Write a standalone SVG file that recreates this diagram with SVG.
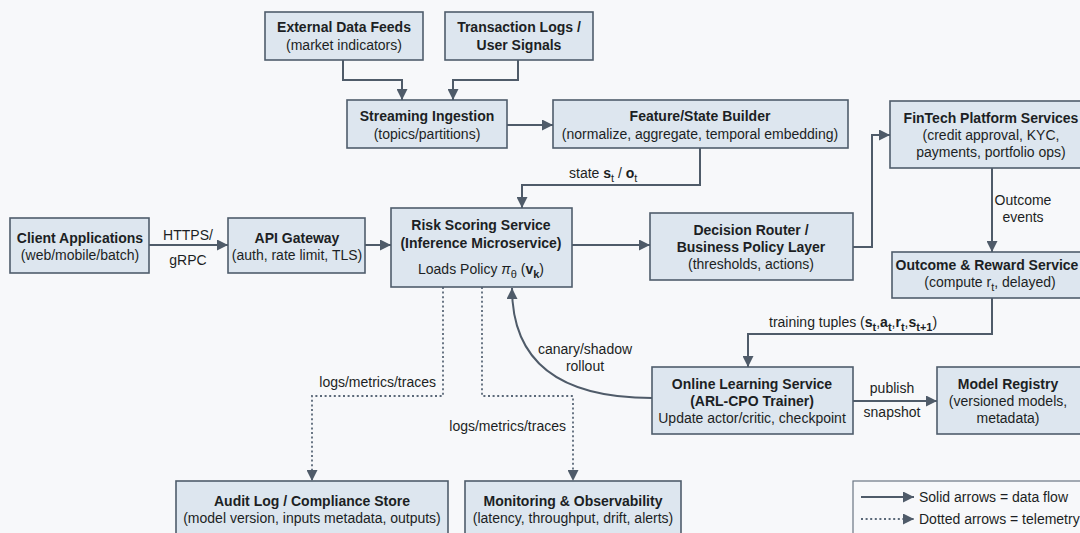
<svg xmlns="http://www.w3.org/2000/svg" width="1080" height="533" viewBox="0 0 1080 533">
<style>
  .box{fill:#dde6ef;stroke:#4f5d6c;stroke-width:1.6}
  text{font-family:"Liberation Sans",Arial,sans-serif;font-size:14px;fill:#1c1f24}
  .c{text-anchor:middle}
  .b{font-weight:bold}
  .e{text-anchor:end}
  .ln{fill:none;stroke:#4f5b69;stroke-width:2}
  .dt{fill:none;stroke:#5a6878;stroke-width:1.8;stroke-dasharray:2 2.6}
</style>
<defs>
  <marker id="ah" viewBox="0 0 10 10" refX="10" refY="5" markerWidth="11" markerHeight="11" markerUnits="userSpaceOnUse" orient="auto">
    <path d="M0,0 L10,5 L0,10 z" fill="#4f5b69"/>
  </marker>
</defs>
<rect width="1080" height="533" fill="#f7f8fa"/>

<g id="connectors">
  <path class="ln" d="M343,60 V80 H402 V100" marker-end="url(#ah)"/>
  <path class="ln" d="M518,60 V80 H453 V100" marker-end="url(#ah)"/>
  <path class="ln" d="M507,125 H553" marker-end="url(#ah)"/>
  <path class="ln" d="M700,148 V185 H522 V208" marker-end="url(#ah)"/>
  <path class="ln" d="M149,245 H228" marker-end="url(#ah)"/>
  <path class="ln" d="M365,245 H391" marker-end="url(#ah)"/>
  <path class="ln" d="M572,245 H650" marker-end="url(#ah)"/>
  <path class="ln" d="M853,247 H872 V135 H890" marker-end="url(#ah)"/>
  <path class="ln" d="M992,168 V252" marker-end="url(#ah)"/>
  <path class="ln" d="M992,298 V334 H748 V367" marker-end="url(#ah)"/>
  <path class="ln" d="M853,401 H937" marker-end="url(#ah)"/>
  <path class="ln" d="M652,398 Q512,398 512,288" marker-end="url(#ah)"/>
  <path class="dt" d="M443,287 V396 H312 V481" marker-end="url(#ah)"/>
  <path class="dt" d="M482,287 V396 H573 V481" marker-end="url(#ah)"/>

  <text class="c" x="188" y="240">HTTPS/</text>
  <text class="c" x="188" y="265">gRPC</text>
  <text x="569" y="178">state <tspan class="b">s</tspan><tspan font-size="11" dy="4">t</tspan><tspan dy="-4"> / </tspan><tspan class="b">o</tspan><tspan font-size="11" dy="4">t</tspan></text>
  <text class="c" x="1023" y="205">Outcome</text>
  <text class="c" x="1023" y="222">events</text>
  <text x="769" y="327">training tuples (<tspan class="b">s</tspan><tspan class="b" font-size="11" dy="4">t</tspan><tspan dy="-4">,</tspan><tspan class="b">a</tspan><tspan class="b" font-size="11" dy="4">t</tspan><tspan dy="-4">,</tspan><tspan class="b">r</tspan><tspan class="b" font-size="11" dy="4">t</tspan><tspan dy="-4">,</tspan><tspan class="b">s</tspan><tspan class="b" font-size="11" dy="4">t+1</tspan><tspan dy="-4">)</tspan></text>
  <text class="c" x="585" y="354">canary/shadow</text>
  <text class="c" x="585" y="371">rollout</text>
  <text class="c" x="892" y="393">publish</text>
  <text class="c" x="892" y="417">snapshot</text>
  <text class="e" x="436" y="387">logs/metrics/traces</text>
  <text class="e" x="566" y="431">logs/metrics/traces</text>
</g>

<g id="ext">
  <rect class="box" x="265" y="12" width="158" height="48"/>
  <text class="c b" x="344" y="32">External Data Feeds</text>
  <text class="c" x="344" y="50">(market indicators)</text>
</g>
<g id="txn">
  <rect class="box" x="445" y="12" width="148" height="48"/>
  <text class="c b" x="519" y="32">Transaction Logs /</text>
  <text class="c b" x="519" y="50">User Signals</text>
</g>
<g id="stream">
  <rect class="box" x="347" y="100" width="160" height="48"/>
  <text class="c b" x="427" y="121">Streaming Ingestion</text>
  <text class="c" x="427" y="139">(topics/partitions)</text>
</g>
<g id="feature">
  <rect class="box" x="553" y="100" width="295" height="48"/>
  <text class="c b" x="700" y="121">Feature/State Builder</text>
  <text class="c" x="700" y="139">(normalize, aggregate, temporal embedding)</text>
</g>
<g id="fintech">
  <rect class="box" x="890" y="101" width="203" height="67"/>
  <text class="c b" x="991" y="123">FinTech Platform Services</text>
  <text class="c" x="991" y="140">(credit approval, KYC,</text>
  <text class="c" x="991" y="157">payments, portfolio ops)</text>
</g>
<g id="client">
  <rect class="box" x="10" y="218" width="139" height="55"/>
  <text class="c b" x="80" y="243">Client Applications</text>
  <text class="c" x="80" y="260">(web/mobile/batch)</text>
</g>
<g id="api">
  <rect class="box" x="228" y="218" width="137" height="55"/>
  <text class="c b" x="297" y="243">API Gateway</text>
  <text class="c" x="297" y="260">(auth, rate limit, TLS)</text>
</g>
<g id="risk">
  <rect class="box" x="391" y="208" width="181" height="79"/>
  <text class="c b" x="481" y="230">Risk Scoring Service</text>
  <text class="c b" x="481" y="248">(Inference Microservice)</text>
  <text class="c" x="481" y="274">Loads Policy <tspan font-style="italic">π</tspan><tspan font-size="11" dy="4">θ</tspan><tspan dy="-4"> (</tspan><tspan class="b">v</tspan><tspan class="b" font-size="11" dy="4">k</tspan><tspan dy="-4">)</tspan></text>
</g>
<g id="decision">
  <rect class="box" x="650" y="213" width="203" height="67"/>
  <text class="c b" x="751" y="235">Decision Router /</text>
  <text class="c b" x="751" y="252">Business Policy Layer</text>
  <text class="c" x="751" y="269">(thresholds, actions)</text>
</g>
<g id="outcome">
  <rect class="box" x="892" y="252" width="200" height="46"/>
  <text class="c b" x="987" y="270">Outcome &amp; Reward Service</text>
  <text class="c" x="990" y="287">(compute r<tspan font-size="11" dy="4">t</tspan><tspan dy="-4">, delayed)</tspan></text>
</g>
<g id="online">
  <rect class="box" x="652" y="367" width="201" height="67"/>
  <text class="c b" x="752" y="389">Online Learning Service</text>
  <text class="c b" x="752" y="406">(ARL-CPO Trainer)</text>
  <text class="c" x="752" y="423">Update actor/critic, checkpoint</text>
</g>
<g id="registry">
  <rect class="box" x="937" y="367" width="145" height="67"/>
  <text class="c b" x="1008" y="389">Model Registry</text>
  <text class="c" x="1008" y="406">(versioned models,</text>
  <text class="c" x="1008" y="423">metadata)</text>
</g>
<g id="audit">
  <rect class="box" x="176" y="481" width="272" height="62"/>
  <text class="c b" x="312" y="506">Audit Log / Compliance Store</text>
  <text class="c" x="312" y="523">(model version, inputs metadata, outputs)</text>
</g>
<g id="monitoring">
  <rect class="box" x="465" y="481" width="216" height="62"/>
  <text class="c b" x="573" y="506">Monitoring &amp; Observability</text>
  <text class="c" x="573" y="523">(latency, throughput, drift, alerts)</text>
</g>
<g id="legend">
  <rect x="853" y="481" width="240" height="62" fill="#f7f8fa" stroke="#6a7683" stroke-width="1.2"/>
  <path class="ln" d="M861,497 H914" marker-end="url(#ah)"/>
  <path class="dt" d="M861,519 H914" marker-end="url(#ah)"/>
  <text x="919" y="502">Solid arrows = data flow</text>
  <text x="919" y="524">Dotted arrows = telemetry</text>
</g>
</svg>
